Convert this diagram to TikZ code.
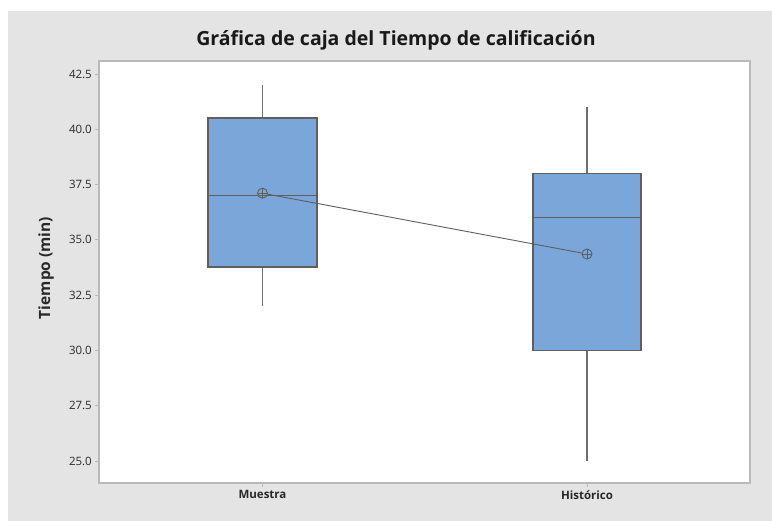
\documentclass[tikz,border=0pt]{standalone}
\usepackage{fontspec}
\setmainfont{Open Sans}
\definecolor{bggray}{RGB}{228,228,228}
\definecolor{boxblue}{RGB}{123,166,218}
\definecolor{edgegray}{RGB}{95,95,95}
\definecolor{framegray}{RGB}{185,185,185}
\definecolor{txtgray}{RGB}{40,40,40}
\tikzset{
  boxstyle/.style={draw=edgegray, fill=boxblue, line width=1.2pt},
  whisk/.style={draw=edgegray!90, line width=1.2pt},
  medline/.style={draw=edgegray, line width=1.2pt},
  meanmark/.style={circle, draw=edgegray, line width=0.9pt, minimum size=10pt, inner sep=0pt,
     path picture={\draw[edgegray, line width=0.8pt] (path picture bounding box.north) -- (path picture bounding box.south)
        (path picture bounding box.west) -- (path picture bounding box.east);}},
  ticklab/.style={anchor=east, font=\fontsize{11.5}{13}\selectfont, text=txtgray, inner sep=0pt},
  catlab/.style={anchor=north, font=\fontsize{11.5}{13}\selectfont\bfseries, text=txtgray, inner sep=0pt},
  tickmark/.style={draw=framegray, line width=0.9pt}
}
\begin{document}
\begin{tikzpicture}[x=1pt,y=-1pt]
\useasboundingbox (0,0) rectangle (772,521);
\fill[white] (0,0) rectangle (772,521);
\fill[bggray] (8,11) rectangle (772,521);
% plot area
\fill[white] (99,61) rectangle (750,483);
\draw[framegray, line width=1.4pt] (99,61) rectangle (750,483);
% title
\node[font=\fontsize{19.5}{22}\selectfont\bfseries, text=black!90] (title) at (396,40) {Gráfica de caja del Tiempo de calificación};
% y axis label
\node[rotate=90, font=\fontsize{15.5}{18}\selectfont\bfseries, text=txtgray] (ylab) at (46,268) {Tiempo (min)};
% y ticks
\foreach \v/\py in {42.5/74.2, 40.0/129.0, 37.5/184.4, 35.0/239.7, 32.5/295.0, 30.0/350.4, 27.5/405.7, 25.0/461.0}{
  \draw[tickmark] (95,\py) -- (99,\py);
  \node[ticklab] at (92,\py) {\v};
}
% x ticks
\draw[tickmark] (262.5,483) -- (262.5,487);
\draw[tickmark] (587,483) -- (587,487);
\node[catlab] (cat1) at (262.5,490) {Muestra};
\node[catlab] (cat2) at (587,490) {Histórico};
% Muestra box
\draw[whisk] (262.5,84.8) -- (262.5,118);
\draw[whisk] (262.5,267) -- (262.5,306.1);
\draw[boxstyle] (208,118) rectangle (317,267);
\draw[medline] (208,195.4) -- (317,195.4);
% Historico box
\draw[whisk] (587,106.9) -- (587,173.3);
\draw[whisk] (587,350.4) -- (587,461);
\draw[boxstyle] (533,173.3) rectangle (641,350.4);
\draw[medline] (533,217.6) -- (641,217.6);
% means
\node[meanmark] (m1) at (262.5,193.2) {};
\node[meanmark] (m2) at (587,254) {};
\draw[edgegray, line width=0.9pt] (m1) -- (m2);
\end{tikzpicture}
\end{document}
